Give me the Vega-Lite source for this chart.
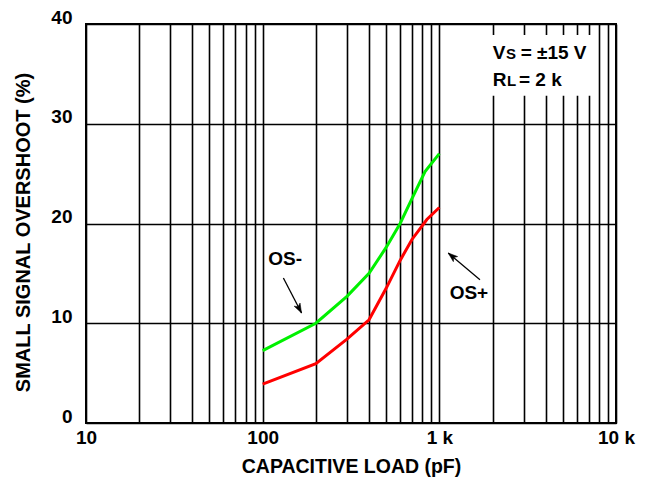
{
  "$schema": "https://vega.github.io/schema/vega-lite/v6.json",
  "width": 530,
  "height": 399,
  "autosize": {"type": "none"},
  "padding": {"left": 86, "top": 24, "right": 34, "bottom": 64},
  "background": "white",
  "config": {
    "view": {"stroke": "black", "strokeWidth": 2},
    "font": "Liberation Sans",
    "axis": {
      "domain": false,
      "ticks": false,
      "grid": true,
      "gridColor": "black",
      "gridOpacity": 1,
      "gridWidth": 1.6,
      "labelFont": "Liberation Sans",
      "labelFontWeight": "bold",
      "labelFontSize": 19,
      "labelColor": "black",
      "labelOverlap": false,
      "labelFlush": false,
      "titleFont": "Liberation Sans",
      "titleFontWeight": "bold",
      "titleColor": "black"
    }
  },
  "datasets": {
    "curves": [
      {"load": 100, "overshoot": 7.25, "series": "OS-"},
      {"load": 200, "overshoot": 10.0, "series": "OS-"},
      {"load": 300, "overshoot": 12.7, "series": "OS-"},
      {"load": 400, "overshoot": 15.0, "series": "OS-"},
      {"load": 500, "overshoot": 17.6, "series": "OS-"},
      {"load": 600, "overshoot": 20.0, "series": "OS-"},
      {"load": 700, "overshoot": 22.5, "series": "OS-"},
      {"load": 830, "overshoot": 25.2, "series": "OS-"},
      {"load": 1000, "overshoot": 27.0, "series": "OS-"},
      {"load": 100, "overshoot": 3.9, "series": "OS+"},
      {"load": 200, "overshoot": 5.95, "series": "OS+"},
      {"load": 300, "overshoot": 8.4, "series": "OS+"},
      {"load": 400, "overshoot": 10.35, "series": "OS+"},
      {"load": 500, "overshoot": 13.5, "series": "OS+"},
      {"load": 600, "overshoot": 16.3, "series": "OS+"},
      {"load": 700, "overshoot": 18.4, "series": "OS+"},
      {"load": 850, "overshoot": 20.4, "series": "OS+"},
      {"load": 1000, "overshoot": 21.6, "series": "OS+"}
    ],
    "arrows": [
      {"fromLoad": 131, "fromPct": 14.54, "tipLoad": 166, "tipPct": 11.03, "label": "OS-"},
      {"fromLoad": 1698, "fromPct": 14.36, "tipLoad": 1123, "tipPct": 17.04, "label": "OS+"}
    ],
    "seriesLabels": [
      {"x": 134, "y": 16.47, "text": "OS-"},
      {"x": 1471, "y": 13.06, "text": "OS+"}
    ],
    "conditionsBox": [
      {"x1": 1835, "x2": 7500, "y1": 32.8, "y2": 38.9}
    ],
    "conditionsMain": [
      {"x": 2003, "y": 36.49, "text": "V"},
      {"x": 2885, "y": 36.49, "text": "= ±15 V"},
      {"x": 2003, "y": 33.74, "text": "R"},
      {"x": 2822, "y": 33.74, "text": "= 2 k"}
    ],
    "conditionsSub": [
      {"x": 2382, "y": 36.49, "text": "S"},
      {"x": 2413, "y": 33.74, "text": "L"}
    ]
  },
  "layer": [
    {
      "data": {"name": "curves"},
      "mark": {"type": "line", "strokeWidth": 3, "interpolate": "linear"},
      "encoding": {
        "x": {
          "field": "load",
          "type": "quantitative",
          "scale": {"type": "log", "domain": [10, 10000], "nice": false},
          "axis": {
            "title": "CAPACITIVE LOAD (pF)",
            "titleFontSize": 19.5,
            "titlePadding": 10,
            "labelPadding": 5,
            "values": [10, 20, 30, 40, 50, 60, 70, 80, 90, 100, 200, 300, 400, 500, 600, 700, 800, 900, 1000, 2000, 3000, 4000, 5000, 6000, 7000, 8000, 9000, 10000],
            "labelExpr": "datum.value == 10 ? '10' : datum.value == 100 ? '100' : datum.value == 1000 ? '1 k' : datum.value == 10000 ? '10 k' : ''"
          }
        },
        "y": {
          "field": "overshoot",
          "type": "quantitative",
          "scale": {"domain": [0, 40], "nice": false},
          "axis": {
            "title": "SMALL SIGNAL OVERSHOOT (%)",
            "titleFontSize": 20,
            "values": [0, 10, 20, 30, 40],
            "labelPadding": 14,
            "labelOffset": -7,
            "titleX": -53,
            "titleY": 208,
            "titleAnchor": "middle"
          }
        },
        "color": {
          "field": "series",
          "type": "nominal",
          "scale": {"domain": ["OS-", "OS+"], "range": ["#00f000", "#ff0000"]},
          "legend": null
        }
      }
    },
    {
      "data": {"name": "conditionsBox"},
      "mark": {"type": "rect", "fill": "white", "stroke": null},
      "encoding": {
        "x": {"field": "x1", "type": "quantitative"},
        "x2": {"field": "x2"},
        "y": {"field": "y1", "type": "quantitative"},
        "y2": {"field": "y2"}
      }
    },
    {
      "data": {"name": "arrows"},
      "mark": {"type": "rule", "color": "black", "strokeWidth": 1.3},
      "encoding": {
        "x": {"field": "fromLoad", "type": "quantitative"},
        "x2": {"field": "tipLoad"},
        "y": {"field": "fromPct", "type": "quantitative"},
        "y2": {"field": "tipPct"}
      }
    },
    {
      "data": {"name": "arrows"},
      "transform": [{"filter": "datum.label == 'OS-'"}],
      "mark": {"type": "point", "shape": "M 0 0 L -0.7 2 L 0 1.5 L 0.7 2 Z", "filled": true, "fill": "black", "stroke": "black", "strokeWidth": 0.5, "opacity": 1, "size": 90, "angle": 152},
      "encoding": {
        "x": {"field": "tipLoad", "type": "quantitative"},
        "y": {"field": "tipPct", "type": "quantitative"}
      }
    },
    {
      "data": {"name": "arrows"},
      "transform": [{"filter": "datum.label == 'OS+'"}],
      "mark": {"type": "point", "shape": "M 0 0 L -0.7 2 L 0 1.5 L 0.7 2 Z", "filled": true, "fill": "black", "stroke": "black", "strokeWidth": 0.5, "opacity": 1, "size": 90, "angle": 310},
      "encoding": {
        "x": {"field": "tipLoad", "type": "quantitative"},
        "y": {"field": "tipPct", "type": "quantitative"}
      }
    },
    {
      "data": {"name": "seriesLabels"},
      "mark": {"type": "text", "font": "Liberation Sans", "fontWeight": "bold", "fontSize": 19, "color": "black", "align": "center", "baseline": "middle"},
      "encoding": {
        "x": {"field": "x", "type": "quantitative"},
        "y": {"field": "y", "type": "quantitative"},
        "text": {"field": "text"}
      }
    },
    {
      "data": {"name": "conditionsMain"},
      "mark": {"type": "text", "font": "Liberation Sans", "fontWeight": "bold", "fontSize": 19, "color": "black", "align": "left", "baseline": "alphabetic"},
      "encoding": {
        "x": {"field": "x", "type": "quantitative"},
        "y": {"field": "y", "type": "quantitative"},
        "text": {"field": "text"}
      }
    },
    {
      "data": {"name": "conditionsSub"},
      "mark": {"type": "text", "font": "Liberation Sans", "fontWeight": "bold", "fontSize": 15, "color": "black", "align": "left", "baseline": "alphabetic"},
      "encoding": {
        "x": {"field": "x", "type": "quantitative"},
        "y": {"field": "y", "type": "quantitative"},
        "text": {"field": "text"}
      }
    }
  ]
}
